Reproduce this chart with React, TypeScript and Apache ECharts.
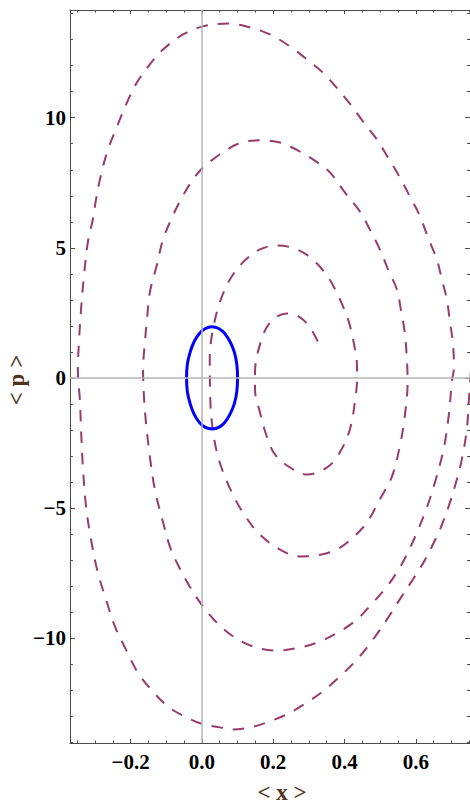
import React, { useEffect, useRef } from "react";
import * as echarts from "echarts";

// Tick values
const xTickValues = [-0.2, 0, 0.2, 0.4, 0.6];
const xMinorTickValues = [
  -0.35, -0.3, -0.25, -0.2, -0.15, -0.1, -0.05, 0, 0.05, 0.1, 0.15, 0.2, 0.25,
  0.3, 0.35, 0.4, 0.45, 0.5, 0.55, 0.6, 0.65, 0.7, 0.75,
];
const yTickValues = [-10, -5, 0, 5, 10];
const yMinorTickValues = [
  -14, -13, -12, -11, -10, -9, -8, -7, -6, -5, -4, -3, -2, -1, 0, 1, 2, 3, 4, 5,
  6, 7, 8, 9, 10, 11, 12, 13, 14,
];

const xTitle = "< x >";
const yTitle = "< p >";

// Dashed spiral trajectory (<x>, <p>), from its inner end outwards
const spiralPoints: number[][] = [
  [0.325, 1.4], [0.303, 1.94], [0.275, 2.33], [0.238, 2.48], [0.191, 2.13],
  [0.163, 1.29], [0.149, 0.21], [0.149, -0.44], [0.163, -1.33], [0.182, -2.25],
  [0.205, -2.94], [0.247, -3.44], [0.295, -3.71], [0.351, -3.44], [0.387, -2.86],
  [0.415, -1.98], [0.429, -0.94], [0.435, -0.06], [0.435, 0.44], [0.424, 1.48],
  [0.41, 2.25], [0.387, 3.02], [0.355, 3.85], [0.311, 4.55], [0.266, 4.94],
  [0.213, 5.09], [0.163, 4.94], [0.115, 4.44], [0.079, 3.79], [0.05, 2.9],
  [0.031, 1.86], [0.022, 0.83], [0.023, -0.6], [0.031, -2.05], [0.05, -3.25],
  [0.084, -4.4], [0.115, -5.17], [0.157, -5.94], [0.21, -6.52], [0.275, -6.86],
  [0.323, -6.82], [0.379, -6.59], [0.424, -6.13], [0.463, -5.55], [0.499, -4.67],
  [0.533, -3.79], [0.555, -2.63], [0.569, -1.48], [0.577, -0.17],
  [0.575, 0.71], [0.569, 1.75], [0.558, 2.63], [0.547, 3.4], [0.522, 4.17],
  [0.499, 4.94], [0.471, 5.71], [0.443, 6.4], [0.401, 7.13], [0.359, 7.9],
  [0.32, 8.32], [0.275, 8.7], [0.219, 9.05], [0.163, 9.13], [0.107, 9.03],
  [0.059, 8.67], [0.031, 8.4], [0.003, 8.09], [-0.025, 7.63], [-0.053, 7.01],
  [-0.081, 6.25], [-0.109, 5.32], [-0.126, 4.36], [-0.146, 3.29], [-0.154, 2.25],
  [-0.16, 1.36], [-0.165, 0.33], [-0.163, -0.6], [-0.157, -1.71], [-0.146, -3.02],
  [-0.132, -4.29], [-0.109, -5.55], [-0.087, -6.59], [-0.059, -7.4], [-0.031, -8.09],
  [-0.003, -8.67], [0.036, -9.32], [0.084, -9.9], [0.143, -10.32], [0.21, -10.48],
  [0.275, -10.36], [0.331, -10.13], [0.387, -9.74], [0.435, -9.28], [0.48, -8.63],
  [0.519, -8.02], [0.55, -7.4], [0.575, -6.78], [0.603, -5.94], [0.631, -4.98],
  [0.656, -3.9], [0.679, -2.67], [0.693, -1.37], [0.701, -0.17], [0.707, 0.44],
  [0.704, 1.36], [0.696, 2.13], [0.687, 3.02], [0.673, 3.79], [0.659, 4.55],
  [0.634, 5.4], [0.612, 6.21], [0.583, 6.98], [0.555, 7.71], [0.522, 8.47],
  [0.491, 9.16], [0.452, 9.85], [0.41, 10.63], [0.37, 11.28], [0.339, 11.74],
  [0.295, 12.24], [0.247, 12.74], [0.191, 13.2], [0.135, 13.47], [0.073, 13.62],
  [0.003, 13.51], [-0.053, 13.2], [-0.109, 12.62], [-0.146, 12.05], [-0.182, 11.36],
  [-0.21, 10.59], [-0.238, 9.67], [-0.266, 8.67], [-0.286, 7.63], [-0.297, 6.86],
  [-0.306, 6.09], [-0.32, 5.21], [-0.331, 3.9], [-0.339, 2.63], [-0.345, 1.36],
  [-0.348, 0.33], [-0.342, -0.9], [-0.339, -1.98], [-0.334, -3.4], [-0.325, -4.94],
  [-0.311, -6.21], [-0.292, -7.48], [-0.269, -8.51], [-0.244, -9.55], [-0.213, -10.44],
  [-0.18, -11.32], [-0.143, -11.97], [-0.095, -12.63], [-0.048, -13.01], [-0.003, -13.28],
  [0.05, -13.43], [0.087, -13.51], [0.135, -13.43], [0.182, -13.24], [0.238, -12.93],
  [0.295, -12.47], [0.339, -12.05], [0.387, -11.47], [0.435, -10.82], [0.48, -10.05],
  [0.519, -9.28], [0.555, -8.51], [0.592, -7.74], [0.62, -7.13], [0.645, -6.48],
  [0.67, -5.75], [0.693, -4.9], [0.712, -4.05], [0.729, -3.13], [0.743, -1.98],
  [0.749, -0.83], [0.755, 0.33],
];

// Blue closed orbit
const ellipsePoints: number[][] = [
  [0.1, 0], [0.098, 0.51], [0.091, 0.99], [0.079, 1.39], [0.064, 1.71],
  [0.047, 1.9], [0.028, 1.97], [0.01, 1.9], [-0.007, 1.71], [-0.022, 1.39],
  [-0.033, 0.99], [-0.041, 0.51], [-0.043, 0], [-0.041, -0.51], [-0.033, -0.99],
  [-0.022, -1.39], [-0.007, -1.71], [0.01, -1.9], [0.029, -1.96], [0.047, -1.9],
  [0.064, -1.71], [0.079, -1.39], [0.091, -0.99], [0.098, -0.51], [0.1, 0],
];

const X_MIN = -0.37;
const X_MAX = 0.752;
const Y_MIN = -14.03;
const Y_MAX = 14.14;

const FRAME = "#4a4a4a";
const FONT = "'Liberation Serif', 'Times New Roman', serif";
const TITLE_COLOR = "#4d3519";

const fmtX = (v: number) => (v < 0 ? "\u2212" : "") + Math.abs(v).toFixed(1);
const fmtY = (v: number) => (v < 0 ? "\u2212" : "") + Math.abs(Math.round(v)).toString();

function makeX(position: "top" | "bottom", ticks: number[], len: number, labels: boolean, line: boolean) {
  return {
    type: "value",
    position,
    min: X_MIN,
    max: X_MAX,
    axisLine: { show: line, onZero: false, lineStyle: { color: FRAME, width: 1 } },
    axisTick: {
      show: true,
      inside: true,
      length: len,
      customValues: ticks,
      lineStyle: { color: FRAME, width: 1 },
    },
    axisLabel: labels
      ? {
          show: true,
          customValues: xTickValues,
          formatter: fmtX,
          color: "#000",
          fontFamily: FONT,
          fontWeight: "bold",
          fontSize: 21,
          margin: 8,
        }
      : { show: false },
    splitLine: { show: false },
    minorTick: { show: false },
  };
}

function makeY(position: "left" | "right", ticks: number[], len: number, labels: boolean, line: boolean) {
  return {
    type: "value",
    position,
    min: Y_MIN,
    max: Y_MAX,
    axisLine: { show: line, onZero: false, lineStyle: { color: FRAME, width: 1 } },
    axisTick: {
      show: true,
      inside: true,
      length: len,
      customValues: ticks,
      lineStyle: { color: FRAME, width: 1 },
    },
    axisLabel: labels
      ? {
          show: true,
          customValues: yTickValues,
          formatter: fmtY,
          color: "#000",
          fontFamily: FONT,
          fontWeight: "bold",
          fontSize: 21,
          margin: 4,
        }
      : { show: false },
    splitLine: { show: false },
    minorTick: { show: false },
  };
}

export default function App() {
  const ref = useRef<HTMLDivElement>(null);

  useEffect(() => {
    if (!ref.current) return;
    const chart = echarts.init(ref.current, undefined, { renderer: "svg" });
    chart.setOption({
      animation: false,
      backgroundColor: "#ffffff",
      grid: {
        left: 70,
        top: 10,
        width: 400,
        height: 733,
        outerBoundsMode: "none",
        containLabel: false,
      },
      xAxis: [
        makeX("bottom", xTickValues, 4, true, true),
        makeX("bottom", xMinorTickValues, 2.5, false, false),
        makeX("top", xTickValues, 4, false, true),
        makeX("top", xMinorTickValues, 2.5, false, false),
      ],
      yAxis: [
        makeY("left", yTickValues, 5, true, true),
        makeY("left", yMinorTickValues, 3, false, false),
        makeY("right", yTickValues, 5, false, true),
        makeY("right", yMinorTickValues, 3, false, false),
      ],
      graphic: [
        {
          type: "text",
          x: 282,
          y: 792,
          style: {
            text: xTitle,
            fill: TITLE_COLOR,
            font: `bold 23px ${FONT}`,
            align: "center",
            verticalAlign: "middle",
          },
        },
        {
          type: "text",
          x: 16,
          y: 380,
          rotation: Math.PI / 2,
          style: {
            text: yTitle,
            fill: TITLE_COLOR,
            font: `bold 23px ${FONT}`,
            align: "center",
            verticalAlign: "middle",
          },
        },
      ],
      series: [
        {
          name: "axes",
          type: "line",
          data: [],
          z: 1,
          silent: true,
          markLine: {
            silent: true,
            symbol: "none",
            label: { show: false },
            lineStyle: { color: "#b5b5b5", width: 1.5, type: "solid" },
            emphasis: { disabled: true },
            data: [{ xAxis: 0 }, { yAxis: 0 }],
          },
        },
        {
          name: "spiral",
          type: "line",
          data: spiralPoints,
          showSymbol: false,
          smooth: 0.35,
          z: 3,
          silent: true,
          lineStyle: { color: "#983b6c", width: 2, type: [11.5, 10] },
        },
        {
          name: "orbit",
          type: "line",
          data: ellipsePoints,
          showSymbol: false,
          smooth: 0.4,
          z: 4,
          silent: true,
          lineStyle: { color: "#0000ff", width: 3, type: "solid" },
        },
      ],
    });
    return () => chart.dispose();
  }, []);

  return (
    <div
      ref={ref}
      style={{ position: "fixed", left: 0, top: 0, width: 470, height: 805, background: "#fff" }}
    />
  );
}
